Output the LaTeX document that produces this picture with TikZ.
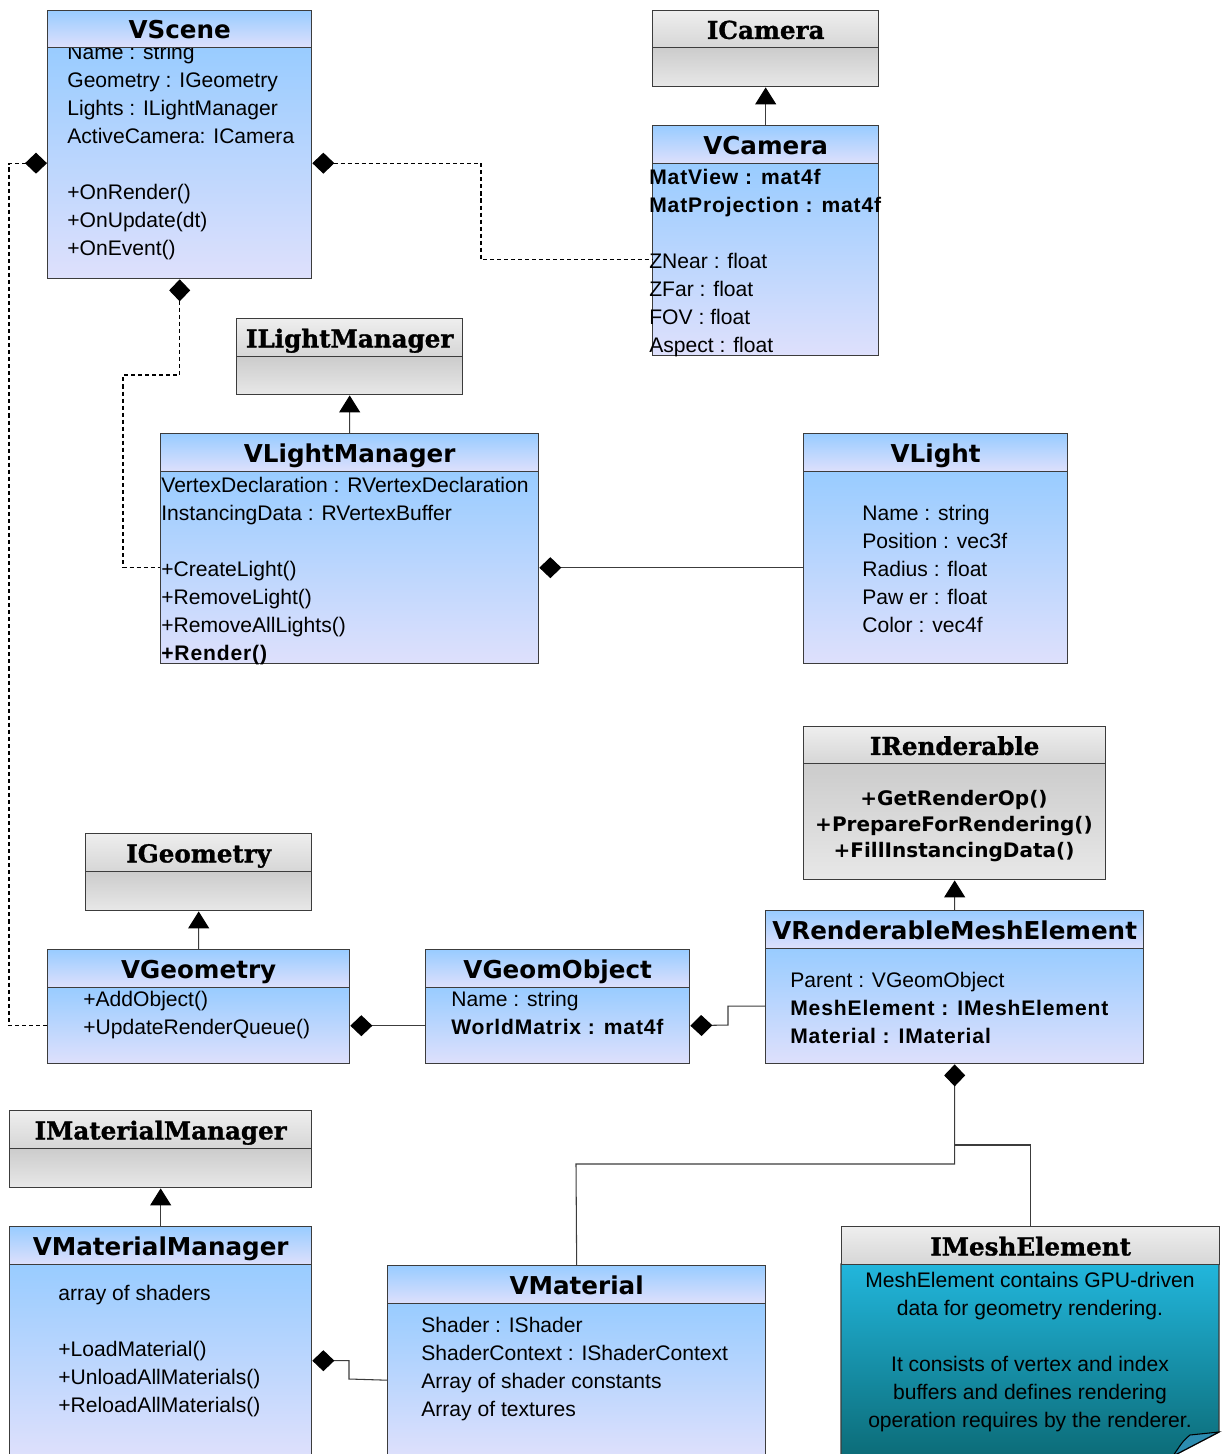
\documentclass[tikz,border=0pt]{standalone}
\usepackage{fontspec}
\setmainfont{Liberation Sans}
\newfontfamily\vtitlefont{DejaVu Sans}
\newfontfamily\ititlefont[BoldFeatures={FakeBold=1.2}]{DejaVu Serif}
\newfontfamily\widefont[LetterSpace=4]{Liberation Sans}
\usepackage{tikz}
\usetikzlibrary{arrows.meta}
\usepackage{xcolor}
\definecolor{vtop}{RGB}{153,204,255}
\definecolor{vbot}{RGB}{222,224,252}
\definecolor{itop}{RGB}{238,238,238}
\definecolor{ibot}{RGB}{214,214,214}
\definecolor{ibodytop}{RGB}{204,204,204}
\definecolor{ibodybot}{RGB}{232,232,232}
\definecolor{ntop}{RGB}{34,182,220}
\definecolor{nbot}{RGB}{12,108,120}
\definecolor{nfold}{RGB}{44,140,176}
\definecolor{linegray}{RGB}{60,60,60}

\begin{document}
\begin{tikzpicture}[x=0.02cm, y=-0.02cm,
    vbody/.style={draw=linegray, line width=0.8pt, top color=vtop, bottom color=vbot, anchor=north west, inner sep=0pt},
    vtitle/.style={vbody, text height=12pt, text depth=1pt, font=\vtitlefont\bfseries\fontsize{14}{16}\selectfont},
    ibody/.style={draw=linegray, line width=0.8pt, top color=ibodytop, bottom color=ibodybot, anchor=north west, inner sep=0pt},
    ititle/.style={ibody, top color=itop, bottom color=ibot, text height=12pt, text depth=1pt, font=\ititlefont\bfseries\fontsize{14}{16}\selectfont},
    attr/.style={anchor=north west, align=left, inner sep=0pt, font=\fontsize{12}{15.94}\selectfont},
    comp/.style={draw=linegray, line width=0.6pt, {Diamond[length=0.44cm,width=0.42cm,color=black]}-},
    inherit/.style={draw=linegray, line width=0.6pt, -{Triangle[length=0.34cm,width=0.42cm,color=black]}},
    dashlink/.style={draw=black, dash pattern=on 2.3pt off 1.7pt}]
    \path[use as bounding box, fill=white] (0,0) rectangle (1223,1454);

    % Scene
    \node[vbody, minimum width=5.28cm, minimum height=4.62cm] (vscene) at (47,47) {};
    \node[attr] (vscene attrs) at (67,39.3) {\strut Name : string\\Geometry : IGeometry\\Lights : ILightManager\\ActiveCamera: ICamera\\ \\+OnRender()\\+OnUpdate(dt)\\+OnEvent()};
    \node[vtitle, minimum width=5.28cm, minimum height=0.74cm] (vscene title) at (47,10) {VScene};

    % Camera
    \node[ibody, minimum width=4.52cm, minimum height=0.78cm] (icamera) at (652,47) {};
    \node[ititle, minimum width=4.52cm, minimum height=0.74cm] (icamera title) at (652,10) {ICamera};
    \node[vbody, minimum width=4.52cm, minimum height=3.84cm] (vcamera) at (652,163) {};
    \node[attr] (vcamera attrs) at (649,164.3) {\strut{\widefont\bfseries MatView : mat4f}\\{\widefont\bfseries MatProjection : mat4f}\\ \\ZNear : float\\ZFar : float\\FOV : float\\Aspect : float};
    \node[vtitle, minimum width=4.52cm, minimum height=0.76cm] (vcamera title) at (652,125) {VCamera};

    % Light manager
    \node[ibody, minimum width=4.52cm, minimum height=0.76cm] (ilm) at (236,356) {};
    \node[ititle, minimum width=4.52cm, minimum height=0.76cm] (ilm title) at (236,318) {ILightManager};
    \node[vbody, minimum width=7.56cm, minimum height=3.84cm] (vlm) at (160,471) {};
    \node[attr] (vlm attrs) at (161,472.3) {\strut VertexDeclaration : RVertexDeclaration\\InstancingData : RVertexBuffer\\ \\+CreateLight()\\+RemoveLight()\\+RemoveAllLights()\\{\widefont\bfseries +Render()}};
    \node[vtitle, minimum width=7.56cm, minimum height=0.76cm] (vlm title) at (160,433) {VLightManager};

    % Light
    \node[vbody, minimum width=5.28cm, minimum height=3.84cm] (vlight) at (803,471) {};
    \node[attr] (vlight attrs) at (862,500.3) {\strut Name : string\\Position : vec3f\\Radius : float\\Paw er : float\\Color : vec4f};
    \node[vtitle, minimum width=5.28cm, minimum height=0.76cm] (vlight title) at (803,433) {VLight};

    % Renderable
    \node[ibody, minimum width=6.04cm, minimum height=2.32cm] (irend) at (803,763) {};
    \node[anchor=north, align=center, inner sep=0pt, font=\vtitlefont\bfseries\fontsize{11.4}{14.74}\selectfont] (irend ops) at (954,786.8) {\strut+GetRenderOp()\\+PrepareForRendering()\\+FillInstancingData()};
    \node[ititle, minimum width=6.04cm, minimum height=0.74cm] (irend title) at (803,726) {IRenderable};

    % Renderable mesh element
    \node[vbody, minimum width=7.56cm, minimum height=2.30cm] (vrme) at (765,948) {};
    \node[attr] (vrme attrs) at (790,967.3) {\strut Parent : VGeomObject\\{\widefont\bfseries MeshElement : IMeshElement}\\{\widefont\bfseries Material : IMaterial}};
    \node[vtitle, minimum width=7.56cm, minimum height=0.76cm] (vrme title) at (765,910) {VRenderableMeshElement};

    % Geometry
    \node[ibody, minimum width=4.52cm, minimum height=0.78cm] (igeom) at (85,871) {};
    \node[ititle, minimum width=4.52cm, minimum height=0.76cm] (igeom title) at (85,833) {IGeometry};
    \node[vbody, minimum width=6.04cm, minimum height=1.52cm] (vgeom) at (47,987) {};
    \node[attr] (vgeom attrs) at (83,986.3) {\strut+AddObject()\\+UpdateRenderQueue()};
    \node[vtitle, minimum width=6.04cm, minimum height=0.76cm] (vgeom title) at (47,949) {VGeometry};

    % Geom object
    \node[vbody, minimum width=5.28cm, minimum height=1.52cm] (vgobj) at (425,987) {};
    \node[attr] (vgobj attrs) at (451,986.3) {\strut Name : string\\{\widefont\bfseries WorldMatrix : mat4f}};
    \node[vtitle, minimum width=5.28cm, minimum height=0.76cm] (vgobj title) at (425,949) {VGeomObject};

    % Material manager
    \node[ibody, minimum width=6.04cm, minimum height=0.78cm] (imatmgr) at (9,1148) {};
    \node[ititle, minimum width=6.04cm, minimum height=0.76cm] (imatmgr title) at (9,1110) {IMaterialManager};
    \node[vbody, minimum width=6.04cm, minimum height=3.84cm] (vmatmgr) at (9,1264) {};
    \node[attr] (vmatmgr attrs) at (58,1280.3) {\strut array of shaders\\ \\+LoadMaterial()\\+UnloadAllMaterials()\\+ReloadAllMaterials()};
    \node[vtitle, minimum width=6.04cm, minimum height=0.76cm] (vmatmgr title) at (9,1226) {VMaterialManager};

    % Material
    \node[vbody, minimum width=7.56cm, minimum height=3.06cm] (vmat) at (387,1303) {};
    \node[attr] (vmat attrs) at (421,1312.3) {\strut Shader : IShader\\ShaderContext : IShaderContext\\Array of shader constants\\Array of textures};
    \node[vtitle, minimum width=7.56cm, minimum height=0.76cm] (vmat title) at (387,1265) {VMaterial};

    % Mesh element note
    \path[draw=linegray, line width=0.8pt, top color=ntop, bottom color=nbot] (841,1264) -- (1219,1264) -- (1219,1432) -- (1173,1456) -- (841,1456) -- cycle;
    \filldraw[fill=nfold, draw=black, line width=0.6pt] (1219,1432) -- (1190,1435) .. controls (1183,1441) .. (1173,1456) -- cycle;
    \node[anchor=north, align=center, inner sep=0pt, font=\fontsize{12}{15.94}\selectfont] (imesh text) at (1030,1267.3) {\strut MeshElement contains GPU-driven\\data for geometry rendering.\\ \\It consists of vertex and index\\buffers and defines rendering\\operation requires by the renderer.};
    \node[ititle, minimum width=7.56cm, minimum height=0.76cm] (imesh title) at (841,1226) {IMeshElement};

    % Bend points
    \coordinate (leftrail) at (9,0);
    \coordinate (camrail) at (481,0);
    \coordinate (lmbend) at (123,375);
    \coordinate (gobjbend) at (728,1025);
    \coordinate (matbend) at (576,1164);
    \coordinate (meshjoint) at (954,1145);
    \coordinate (mmbend) at (349,1379);

    % Aggregations of the scene
    \draw[comp, dashlink] (vscene.west) -| (leftrail |- vgeom.west) -- (vgeom.west);
    \draw[comp, dashlink] (vscene.east) -| (camrail |- vcamera.west) -- (vcamera.west);
    \draw[comp, dashlink] (vscene.south) |- (lmbend) |- (vlm.west);

    % Compositions
    \draw[comp] (vlm.east) -- (vlight.west);
    \draw[comp] (vgeom.east) -- (vgobj.west);
    \draw[comp] (vgobj.east) -- (gobjbend) |- (vrme.west);
    \draw[comp] (vrme.south) |- (matbend) -- (vmat title.north);
    \draw[draw=linegray, line width=0.6pt] (meshjoint) -| (imesh title.north);
    \draw[comp] (vmatmgr.east) -| (mmbend) -- (vmat.west);

    % Inheritance
    \draw[inherit] (vcamera title.north) -- (icamera.south);
    \draw[inherit] (vlm title.north) -- (ilm.south);
    \draw[inherit] (vrme title.north) -- (irend.south);
    \draw[inherit] (vgeom title.north) -- (igeom.south);
    \draw[inherit] (vmatmgr title.north) -- (imatmgr.south);
\end{tikzpicture}
\end{document}
